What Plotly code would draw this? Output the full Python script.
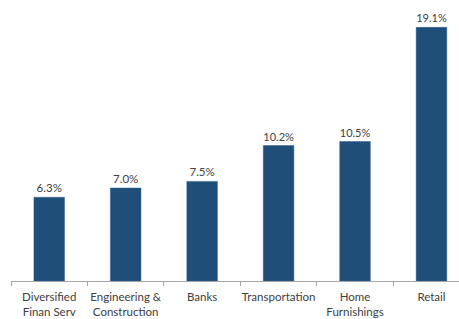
import plotly.graph_objects as go

categories = ["Diversified<br>Finan Serv", "Engineering &<br>Construction", "Banks",
              "Transportation", "Home<br>Furnishings", "Retail"]
values = [6.3, 7.0, 7.5, 10.2, 10.5, 19.1]
labels = [f"{v:.1f}%" for v in values]

fig = go.Figure(go.Bar(
    x=categories, y=values, text=labels, textposition="outside",
    marker=dict(color="#1F4E79", line=dict(color="#2E5F8E", width=0.5)),
    textfont=dict(family="Lato", size=11.5, color="#404040"),
    cliponaxis=False, width=0.4,
))
fig.update_layout(
    width=459, height=319,
    margin=dict(l=11, r=0, t=0, b=38, autoexpand=False),
    plot_bgcolor="white", paper_bgcolor="white",
    showlegend=False,
    font=dict(family="Lato", size=11.5, color="#404040"),
)
fig.update_xaxes(
    type="category", range=[-0.5, 5.36], automargin=False, tickangle=0,
    showline=True, linecolor="#A6A6A6", linewidth=1,
    ticks="outside", tickson="boundaries", ticklen=4, tickcolor="#A6A6A6",
    ticklabelstandoff=5,
    showgrid=False, tickfont=dict(family="Lato", size=11.5, color="#404040"),
)
fig.update_yaxes(range=[0, 21.16], visible=False, showgrid=False)
fig.write_html("out.html", config={"displayModeBar": False},
               post_script="document.body.style.margin='0';")
